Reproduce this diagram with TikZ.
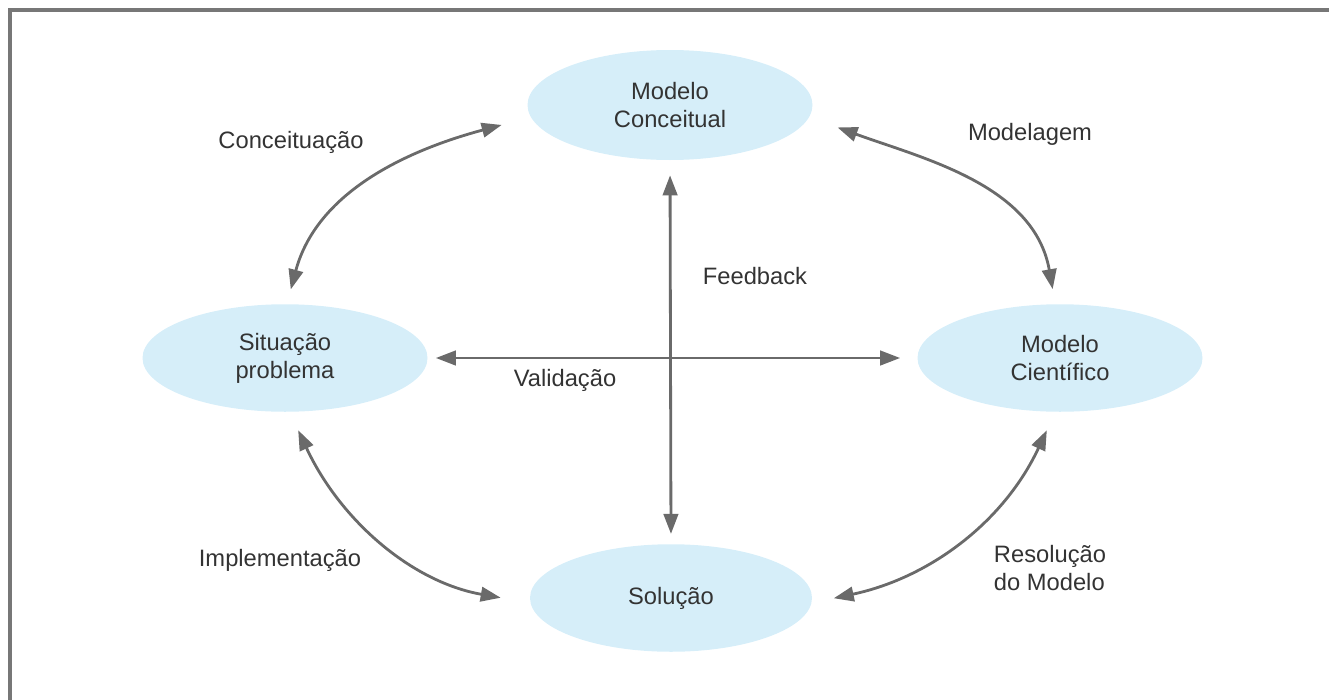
\documentclass[tikz,border=0pt]{standalone}
\usepackage{fontspec}
\setmainfont{Liberation Sans}
\usetikzlibrary{positioning,shapes.geometric,arrows.meta}

\definecolor{fundo}{HTML}{D6EEF9}
\definecolor{seta}{HTML}{6A6A6A}
\definecolor{texto}{HTML}{333333}
\definecolor{moldura}{HTML}{777777}

\begin{document}
\begin{tikzpicture}[
  etapa/.style={ellipse, fill=fundo, text=texto, align=center, inner sep=0pt,
    minimum width=5.7cm, minimum height=2.15cm, font=\fontsize{13.5}{16}\selectfont},
  rotulo/.style={text=texto, align=left, font=\fontsize{13.5}{16}\selectfont},
  relation/.style={{Triangle[length=0.4cm,width=0.29cm]}-{Triangle[length=0.4cm,width=0.29cm]},
    draw=seta, line width=1.6pt}
]
\useasboundingbox (0,0) rectangle (26.58,-14);

% Moldura
\draw[moldura, line width=2.2pt] (0.2,-14) -- (0.2,-0.2) -- (26.58,-0.2);

% Etapas
\node[etapa, minimum height=2.2cm] (conceitual) at (13.4,-2.1) {Modelo\\Conceitual};
\node[etapa] (situacao) at (5.7,-7.16) {Situação\\problema};
\node[etapa] (cientifico) at (21.2,-7.16) {Modelo\\Científico};
\node[etapa, minimum width=5.64cm] (solucao) at (13.42,-11.96) {Solução};

% Relações
\draw[relation, shorten <=0.3cm, shorten >=0.6cm] (situacao.88) to[out=75, in=195] (conceitual.185);
\draw[relation, shorten <=0.6cm, shorten >=0.3cm] (conceitual.355) to[out=-20, in=100] (cientifico.95);
\draw[relation, shorten <=0.4cm, shorten >=0.6cm] (situacao.275) to[out=-65, in=170] (solucao.182);
\draw[relation, shorten <=0.4cm, shorten >=0.45cm] (cientifico.265) to[out=-115, in=12] (solucao.358);
\draw[relation, shorten <=0.3cm, shorten >=0.2cm] (conceitual.south) -- (solucao.north);
\draw[relation, shorten <=0.16cm, shorten >=0.34cm] (situacao.east) -- (cientifico.west);

% Rótulos
\node[rotulo] (conceituacao) at (5.82,-2.84) {Conceituação};
\node[rotulo] (modelagem) at (20.6,-2.68) {Modelagem};
\node[rotulo] (feedback) at (15.1,-5.52) {Feedback};
\node[rotulo] (validacao) at (11.3,-7.6) {Validação};
\node[rotulo] (implementacao) at (5.6,-11.2) {Implementação};
\node[rotulo] (resolucao) at (21.0,-11.36) {Resolução\\do Modelo};

\end{tikzpicture}
\end{document}
